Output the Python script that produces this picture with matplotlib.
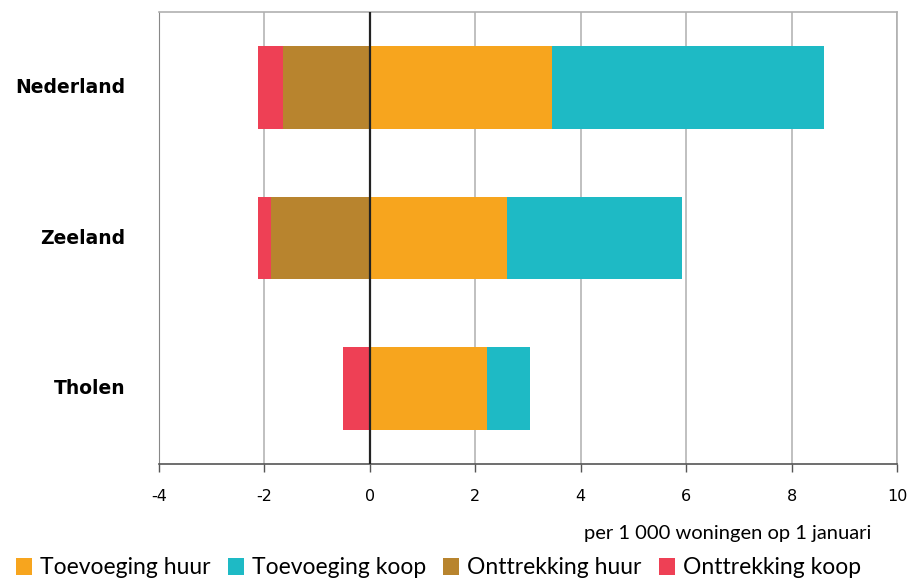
import matplotlib
matplotlib.use("Agg")
import matplotlib.pyplot as plt
from matplotlib.patches import Patch

categories = ["Nederland", "Zeeland", "Tholen"]
toevoeging_huur = [3.45, 2.60, 2.23]
toevoeging_koop = [5.17, 3.32, 0.81]
onttrekking_huur = [-1.65, -1.87, 0.0]
onttrekking_koop = [-0.47, -0.26, -0.51]
series_labels = ["Toevoeging huur", "Toevoeging koop", "Onttrekking huur", "Onttrekking koop"]
colors = ["#F7A51E", "#1EBAC5", "#B8842E", "#EE4055"]
xticks = [-4, -2, 0, 2, 4, 6, 8, 10]

fig = plt.figure(figsize=(9.1, 5.79), dpi=100)
ax = fig.add_axes([159/910, 1-464/579, (897-159)/910, (464-12)/579])

ypos = list(range(len(categories)))
h = 0.55
ax.barh(ypos, toevoeging_huur, height=h, color=colors[0], zorder=3)
ax.barh(ypos, toevoeging_koop, left=toevoeging_huur, height=h, color=colors[1], zorder=3)
ax.barh(ypos, onttrekking_huur, height=h, color=colors[2], zorder=3)
ax.barh(ypos, onttrekking_koop, left=onttrekking_huur, height=h, color=colors[3], zorder=3)

ax.set_xlim(-4, 10)
ax.set_ylim(len(categories)-0.5, -0.5)
ax.set_xticks(xticks)
ax.set_xticklabels([str(t) for t in xticks], fontsize=11.5, family="DejaVu Sans")
ax.set_yticks(ypos)
ax.set_yticklabels(categories, fontsize=13.5, fontweight="bold", family="DejaVu Sans")
for lbl in ax.get_yticklabels():
    lbl.set_va("center")
ax.tick_params(axis="y", length=0, pad=24)
ax.tick_params(axis="x", length=6, width=1, color="#555555", pad=12, direction="out")
for t in xticks:
    ax.axvline(t, color="#c0c0c0", lw=1.4, zorder=1)
ax.axvline(0, color="#222222", lw=1.6, zorder=4)
for s in ["top", "right"]:
    ax.spines[s].set_color("#b0b0b0")
    ax.spines[s].set_linewidth(1.2)
ax.spines["left"].set_color("#888888")
ax.spines["bottom"].set_color("#555555")
ax.spines["bottom"].set_linewidth(1.2)

fig.text(871/910, 1-533/579, "per 1 000 woningen op 1 januari", ha="right", va="center",
         fontsize=14.5, family="Lato")

handles = [Patch(facecolor=c, edgecolor="none") for c in colors]
fig.legend(handles, series_labels, loc="center left", bbox_to_anchor=(0.0, 1-568/579),
           ncol=4, frameon=False, handlelength=0.7, handleheight=0.7,
           handletextpad=0.35, columnspacing=0.75, borderaxespad=0.3,
           prop={"family": "Lato", "size": 16.5})

fig.savefig("out.png", dpi=100)
